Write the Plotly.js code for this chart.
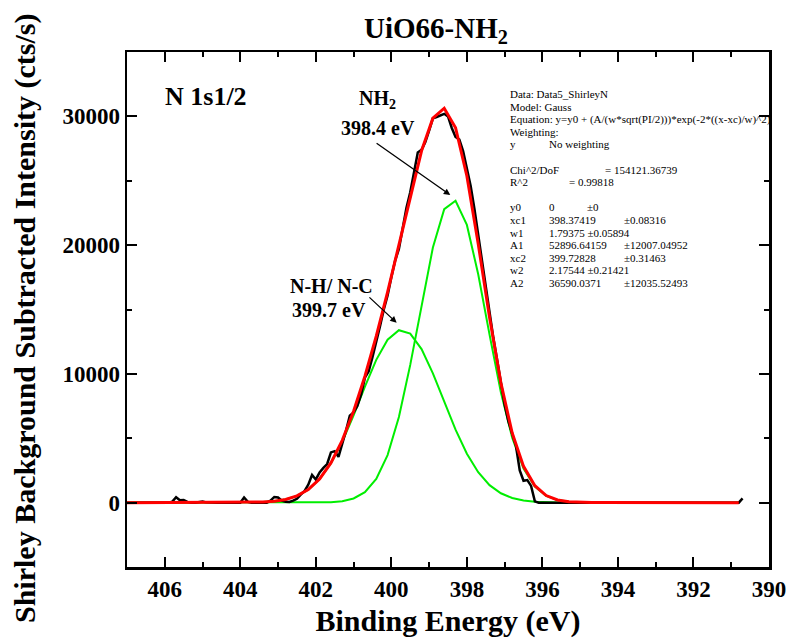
<!DOCTYPE html>
<html>
<head>
<meta charset="utf-8">
<script src="https://cdn.plot.ly/plotly-3.0.1.min.js"></script>
<style>html,body{margin:0;padding:0;background:#fff;}#chart{width:790px;height:644px;}</style>
</head>
<body>
<div id="chart"></div>
<script>
// ---- Measured data (black) ----
var dataEnergy = [
407.0,406.9,406.8,406.7,406.6,406.5,406.4,406.3,406.2,406.1,
406.0,405.9,405.8,405.7,405.6,405.5,405.4,405.3,405.2,405.1,
405.0,404.9,404.8,404.7,404.6,404.5,404.4,404.3,404.2,404.1,
404.0,403.9,403.8,403.7,403.6,403.5,403.4,403.3,403.2,403.1,
403.0,402.9,402.8,402.7,402.6,402.5,402.4,402.3,402.2,402.1,
402.0,401.9,401.8,401.7,401.6,401.5,401.4,401.3,401.2,401.1,
401.0,400.9,400.8,400.7,400.6,400.5,400.4,400.3,400.2,400.1,
400.0,399.9,399.8,399.7,399.6,399.5,399.4,399.3,399.2,399.1,
399.0,398.9,398.8,398.7,398.6,398.5,398.4,398.3,398.2,398.1,
398.0,397.9,397.8,397.7,397.6,397.5,397.4,397.3,397.2,397.1,
397.0,396.9,396.8,396.7,396.6,396.5,396.4,396.3,396.2,396.1,
396.0,395.9,395.8,395.7,395.6,395.5,395.4,395.3,395.2,395.1,
395.0,394.9,394.8,394.7,394.6,394.5,394.4,394.3,394.2,394.1,
394.0,393.9,393.8,393.7,393.6,393.5,393.4,393.3,393.2,393.1,
393.0,392.9,392.8,392.7,392.6,392.5,392.4,392.3,392.2,392.1,
392.0,391.9,391.8,391.7,391.6,391.5,391.4,391.3,391.2,391.1,
391.0,390.9,390.8,390.7];
var dataIntensity = [
0,0,0,0,0,0,0,0,0,0,
0,0,80,420,180,200,60,0,0,30,
90,20,0,0,0,0,0,0,0,0,
0,400,60,0,0,0,0,0,150,440,
400,150,60,50,150,300,620,900,1400,2150,
1800,2350,2700,3000,3900,4000,3550,4500,5600,6750,
7000,7500,8400,9700,10200,11300,12400,13700,15000,16100,
17500,18800,19700,21300,22900,24100,25800,27200,27400,28000,
28900,29850,29950,30050,30200,30000,29100,28400,28200,27300,
26000,24600,22800,20800,18700,16600,14600,12800,11100,9300,
7600,6300,5300,4400,2500,1700,1750,1300,100,0,
0,0,0,0,0,0,0,0,0,0,
0,0,0,0,0,0,0,0,0,0,
0,0,0,0,0,0,0,0,0,0,
0,0,0,0,0,0,0,0,0,0,
0,0,0,0,0,0,0,0,0,0,
0,0,0,330];

// ---- Fitted curves ----
var fitEnergy = [
407.0,406.7,406.4,406.1,405.8,405.5,405.2,404.9,404.6,404.3,
404.0,403.7,403.4,403.1,402.8,402.5,402.2,401.9,401.6,401.3,
401.0,400.7,400.4,400.1,399.8,399.5,399.2,398.9,398.6,398.3,
398.0,397.7,397.4,397.1,396.8,396.5,396.2,395.9,395.6,395.3,
395.0,394.7,394.4,394.1,393.8,393.5,393.2,392.9,392.6,392.3,
392.0,391.7,391.4,391.1,390.8];
var fitEnvelope = [
0,0,0,0,0,0,0,0,1,2,
6,17,45,110,249,522,1017,1838,3088,4838,
7097,9817,12923,16352,20038,23828,27327,29857,30633,29119,
25369,20102,14405,9304,5403,2816,1317,551,207,69,
21,5,1,0,0,0,0,0,0,0,
0,0,0,0,0];
var peakNH2 = [
0,0,0,0,0,0,0,0,0,0,
0,0,0,0,0,0,3,10,36,115,
324,815,1834,3694,6647,10699,15398,19812,22794,23450,
21570,17742,13047,8579,5045,2652,1247,524,197,66,
20,5,1,0,0,0,0,0,0,0,
0,0,0,0,0];
var peakNHNC = [
0,0,0,0,0,0,0,0,1,2,
6,17,45,110,249,522,1014,1828,3052,4723,
6773,9002,11089,12658,13391,13129,11929,10045,7839,5669,
3799,2360,1358,725,358,164,70,27,10,3,
1,0,0,0,0,0,0,0,0,0,
0,0,0,0,0];

// ---- Text ----
var chartTitle = 'UiO66-NH<sub>2</sub>';
var xTitle = 'Binding Energy (eV)';
var yTitle = 'Shirley Background Subtracted Intensity (cts/s)';
var regionLabel = 'N 1s1/2';
var peakLabels = [['NH<sub>2</sub>', '398.4 eV'], ['N-H/ N-C', '399.7 eV']];
var fitCol1 = ['Data: Data5_ShirleyN','Model: Gauss','Equation: y=y0 + (A/(w*sqrt(PI/2)))*exp(-2*((x-xc)/w)^2)','Weighting:','y','','Chi^2/DoF','R^2','','y0','xc1','w1','A1','xc2','w2','A2'];
var fitCol2 = ['','','','','No weighting','','= 154121.36739','= 0.99818','','0','398.37419','1.79375 \u00b10.05894','52896.64159','399.72828','2.17544 \u00b10.21421','36590.0371'];
var fitCol3 = ['','','','','','','','','','\u00b10','\u00b10.08316','','\u00b112007.04952','\u00b10.31463','','\u00b112035.52493'];

// ---- Layout helpers ----
var W = 790, H = 644, L = 127, R = 21, T = 52, B = 77;
var pw = W - L - R, ph = H - T - B;
function px(x) { return (x - L) / pw; }
function py(y) { return (H - B - y) / ph; }

var serif = 'Liberation Serif, Times New Roman, serif';

var traces = [
  {x: fitEnergy, y: peakNH2, mode: 'lines', line: {color: '#00ee00', width: 2}, hoverinfo: 'skip'},
  {x: fitEnergy, y: peakNHNC, mode: 'lines', line: {color: '#00ee00', width: 2}, hoverinfo: 'skip'},
  {x: dataEnergy, y: dataIntensity, mode: 'lines', line: {color: '#000000', width: 2.5}, hoverinfo: 'skip'},
  {x: fitEnergy, y: fitEnvelope, mode: 'lines', line: {color: '#ff0000', width: 3}, hoverinfo: 'skip'}
];

var ann = [];
var boldFont = function (s) { return {family: serif, size: s, color: '#000', weight: 'bold'}; };
// y-axis title (placed as rotated text so it can sit slightly below the plot centre, like the reference)
ann.push({xref: 'paper', yref: 'paper', x: px(25), y: py(318), xanchor: 'center', yanchor: 'middle', textangle: -90, text: yTitle, showarrow: false, font: boldFont(30)});
ann.push({xref: 'paper', yref: 'paper', x: px(163), y: py(97), xanchor: 'left', yanchor: 'middle', text: regionLabel, showarrow: false, font: boldFont(26)});
ann.push({xref: 'paper', yref: 'paper', x: px(377), y: py(99), xanchor: 'center', yanchor: 'middle', text: peakLabels[0][0], showarrow: false, font: boldFont(20)});
ann.push({xref: 'paper', yref: 'paper', x: px(378), y: py(128), xanchor: 'center', yanchor: 'middle', text: peakLabels[0][1], showarrow: false, font: boldFont(20)});
ann.push({xref: 'paper', yref: 'paper', x: px(331), y: py(286), xanchor: 'center', yanchor: 'middle', text: peakLabels[1][0], showarrow: false, font: boldFont(20)});
ann.push({xref: 'paper', yref: 'paper', x: px(329), y: py(310), xanchor: 'center', yanchor: 'middle', text: peakLabels[1][1], showarrow: false, font: boldFont(20)});
// arrows
ann.push({xref: 'x', yref: 'y', axref: 'x', ayref: 'y', x: 398.44, y: 23890, ax: 400.43, ay: 28000, text: '', showarrow: true, arrowhead: 2, arrowsize: 1, arrowwidth: 1.3, arrowcolor: '#000'});
ann.push({xref: 'x', yref: 'y', axref: 'x', ayref: 'y', x: 399.86, y: 13970, ax: 400.62, ay: 16050, text: '', showarrow: true, arrowhead: 2, arrowsize: 1, arrowwidth: 1.3, arrowcolor: '#000'});
// fit info
var regFont = {family: serif, size: 11, color: '#000'};
for (var i = 0; i < fitCol1.length; i++) {
  var yy = py(94 + 12.6 * i);
  if (fitCol1[i]) ann.push({xref: 'paper', yref: 'paper', x: px(508), y: yy, xanchor: 'left', yanchor: 'middle', text: fitCol1[i], showarrow: false, font: regFont});
  if (fitCol2[i]) {
    var x2 = 547;
    if (i === 6) x2 = 603;
    if (i === 7) x2 = 567;
    ann.push({xref: 'paper', yref: 'paper', x: px(x2), y: yy, xanchor: 'left', yanchor: 'middle', text: fitCol2[i], showarrow: false, font: regFont});
  }
  if (fitCol3[i]) {
    var x3 = (i === 9) ? 585 : 622;
    ann.push({xref: 'paper', yref: 'paper', x: px(x3), y: yy, xanchor: 'left', yanchor: 'middle', text: fitCol3[i], showarrow: false, font: regFont});
  }
}

var axisCommon = {
  showline: true, linewidth: 2.5, linecolor: '#000', mirror: 'ticks',
  ticks: 'inside', ticklen: 10, tickwidth: 2, tickcolor: '#000',
  showgrid: false, zeroline: false,
  tickfont: boldFont(23)
};

var layout = {
  width: W, height: H,
  margin: {l: L, r: R, t: T, b: B},
  paper_bgcolor: '#fff', plot_bgcolor: '#fff',
  showlegend: false,
  title: {text: chartTitle, font: boldFont(29), x: 436 / W, xanchor: 'center', y: 1 - 28 / H, yanchor: 'middle'},
  xaxis: Object.assign({}, axisCommon, {
    range: [407, 390], tickmode: 'linear', tick0: 390, dtick: 2,
    minor: {dtick: 1, tick0: 390, ticks: 'inside', ticklen: 5, tickwidth: 2, tickcolor: '#000'},
    title: {text: xTitle, font: boldFont(30), standoff: 9}
  }),
  yaxis: Object.assign({}, axisCommon, {
    range: [-5000, 35000], tickmode: 'linear', tick0: 0, dtick: 10000, tickformat: 'd',
    minor: {dtick: 5000, tick0: 0, ticks: 'inside', ticklen: 5, tickwidth: 2, tickcolor: '#000'}
  }),
  annotations: ann
};

Plotly.newPlot('chart', traces, layout, {displayModeBar: false, staticPlot: true});
</script>
</body>
</html>
